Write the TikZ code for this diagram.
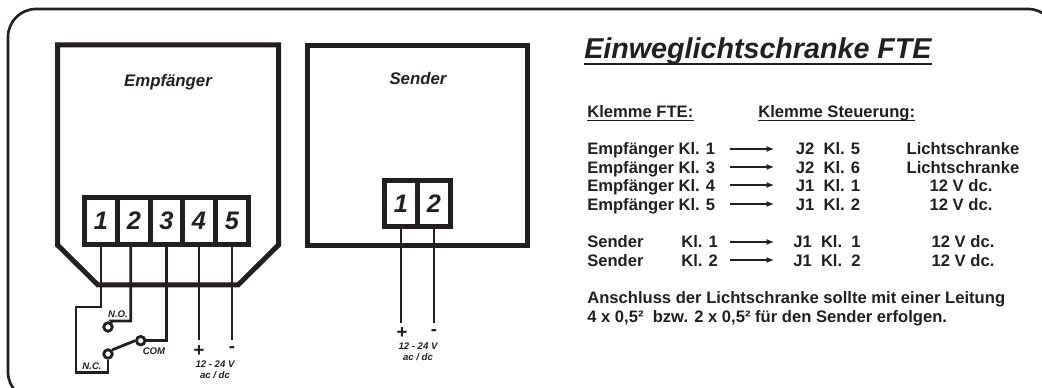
\documentclass[tikz,border=0pt]{standalone}
\usepackage{fontspec}
\setmainfont{Liberation Sans}
\definecolor{inkblack}{HTML}{231F20}
\tikzset{
  boxline/.style={draw=inkblack,line width=3.75pt,line join=miter},
  wire/.style={draw=inkblack,line width=2.1pt},
  thinwire/.style={draw=inkblack,line width=1.1pt},
  cell/.style={draw=inkblack,fill=white,line width=3.75pt,inner sep=0pt,minimum width=24.75pt,minimum height=35.2pt,font=\fontsize{19}{20}\selectfont\bfseries\itshape,text=inkblack},
  senderchip/.style={cell,minimum height=34.5pt},
  contact/.style={circle,draw=inkblack,fill=white,line width=2.1pt,inner sep=0pt,minimum size=6.4pt},
  boxlabel/.style={inner sep=0.75pt,text=inkblack,font=\fontsize{12.6}{14}\selectfont\bfseries\itshape},
  tinylabel/.style={inner sep=0pt,text=inkblack,align=center,font=\fontsize{7.2}{8.6}\selectfont\bfseries\itshape},
  polarity/.style={inner sep=0pt,text=inkblack,font=\fontsize{14}{14}\selectfont\bfseries},
  rowtext/.style={anchor=base west,inner sep=0pt,text=inkblack,font=\fontsize{12.45}{14}\selectfont\bfseries},
  rowcenter/.style={rowtext,anchor=base},
  rowarrow/.style={draw=inkblack,line width=0.95pt,-{Latex[length=5.5pt,width=4.5pt]}},
}
\usetikzlibrary{arrows.meta}
\begin{document}
\begin{tikzpicture}[x=0.75pt,y=0.75pt,yscale=-1,xscale=1]
\useasboundingbox (0,0) rectangle (1042,388);
\clip (0,0) rectangle (1042,388);
%Outer frame
\draw [draw=inkblack,line width=2pt,rounded corners=21pt] (8,9) rectangle (1056,400);
%Empfaenger housing
\draw [boxline] (98,285) -- (57.5,245) -- (57.5,45) -- (278.5,45) -- (278.5,245) -- (238,285) -- cycle;
%Sender housing
\draw [boxline] (307.5,45.5) rectangle (527.5,245.5);
% Text Node
\draw (168,82) node [boxlabel] (empflabel) {Empfänger};
% Text Node
\draw (418,79) node [boxlabel] (sendlabel) {Sender};
%Empfaenger terminals
\draw (101,221) node [cell] (e1) {1};
\draw (134,221) node [cell] (e2) {2};
\draw (166.5,221) node [cell] (e3) {3};
\draw (199,221) node [cell] (e4) {4};
\draw (232,221) node [cell] (e5) {5};
%Sender terminals
\draw (401,203.5) node [senderchip] (s1) {1};
\draw (434,203.5) node [senderchip] (s2) {2};
%Contacts
\draw (108,327) node [contact] (cno) {};
\draw (108,354) node [contact] (cnc) {};
\draw (140.7,340.7) node [contact] (ccom) {};
%Wire coordinates
\coordinate (kinka) at (101,307);
\coordinate (kinkb) at (76,307);
\coordinate (kinkc) at (76,372.7);
\coordinate (kinkd) at (108,372.7);
\coordinate (kinke) at (130.7,247);
\coordinate (kinkf) at (130.7,321);
\coordinate (kinkg) at (111,321);
\coordinate (kinkh) at (166.7,340.7);
\coordinate (kinki) at (166.7,247);
\coordinate (ende) at (199,340);
\coordinate (endf) at (232,340);
\coordinate (endg) at (401,323);
\coordinate (endh) at (434,323);
%Straight Lines
\draw [wire] (e1.south) -- (kinka) -- (kinkb) -- (kinkc) -- (kinkd) -- (cnc.south);
\draw [wire] (kinke) -- (kinkf) -- (kinkg) -- (cno.north east);
\draw [wire] (kinki) -- (kinkh) -- (ccom.east);
\draw [wire] (ccom.west) -- (cnc.north east);
\draw [wire] (e4.south) -- (ende);
\draw [wire] (e5.south) -- (endf);
\draw [wire] (s1.south) -- (endg);
\draw [wire] (s2.south) -- (endh);
% Text Node
\draw (118,314) node [tinylabel] (nolabel) {N.O.};
\draw (154,351) node [tinylabel] (comlabel) {COM};
\draw (92,366) node [tinylabel] (nclabel) {N.C.};
\draw (199,351) node [polarity] (plusa) {+};
\draw (232,350) node [polarity] (minusa) {-};
\draw (215,369.5) node [tinylabel] (supplya) {12 - 24 V\\ac / dc};
\draw (402,333) node [polarity] (plusb) {+};
\draw (434,333) node [polarity] (minusb) {-};
\draw (418,352) node [tinylabel] (supplyb) {12 - 24 V\\ac / dc};
% Title
\draw (584,59) node [rowtext,font=\fontsize{21.5}{26}\selectfont\bfseries\itshape] (title) {Einweglichtschranke FTE};
\draw [draw=inkblack,line width=1.9pt] ([yshift=3.8pt]title.base west) -- ([yshift=3.8pt]title.base east);
% Column heads
\draw (587,118) node [rowtext] (headfte) {Klemme FTE:};
\draw (758,118) node [rowtext] (headctl) {Klemme Steuerung:};
\draw [thinwire] ([yshift=2pt]headfte.base west) -- ([yshift=2pt]headfte.base east);
\draw [thinwire] ([yshift=2pt]headctl.base west) -- ([yshift=2pt]headctl.base east);
% Rows
\draw (587,155) node [rowtext] (rowa) {Empfänger Kl. 1};
\draw (587,174) node [rowtext] (rowb) {Empfänger Kl. 3};
\draw (587,192) node [rowtext] (rowc) {Empfänger Kl. 4};
\draw (587,211) node [rowtext] (rowd) {Empfänger Kl. 5};
\draw (587,248) node [rowtext] (rowe) {Sender};
\draw (681,248) node [rowtext] (rowekl) {Kl. 1};
\draw (587,267) node [rowtext] (rowf) {Sender};
\draw (681,267) node [rowtext] (rowfkl) {Kl. 2};
\draw (828,155) node [rowcenter] (ja) {J2\ \ Kl. 5};
\draw (828,174) node [rowcenter] (jb) {J2\ \ Kl. 6};
\draw (828,192) node [rowcenter] (jc) {J1\ \ Kl. 1};
\draw (828,211) node [rowcenter] (jd) {J1\ \ Kl. 2};
\draw (827,248) node [rowcenter] (je) {J1\ \ Kl.\ \ 1};
\draw (827,267) node [rowcenter] (jf) {J1\ \ Kl.\ \ 2};
\draw (963,155) node [rowcenter] (ua) {Lichtschranke};
\draw (963,174) node [rowcenter] (ub) {Lichtschranke};
\draw (961,192) node [rowcenter] (uc) {12 V dc.};
\draw (961,211) node [rowcenter] (ud) {12 V dc.};
\draw (963,248) node [rowcenter] (ue) {12 V dc.};
\draw (963,267) node [rowcenter] (uf) {12 V dc.};
% Arrows
\coordinate (arra) at (730,149);
\coordinate (arrb) at (730,167);
\coordinate (arrc) at (730,185);
\coordinate (arrd) at (730,204);
\coordinate (arre) at (730,242);
\coordinate (arrf) at (730,260);
\coordinate (arrA) at (774,149);
\coordinate (arrB) at (774,167);
\coordinate (arrC) at (774,185);
\coordinate (arrD) at (774,204);
\coordinate (arrE) at (774,242);
\coordinate (arrF) at (774,260);
\draw [rowarrow] (arra) -- (arrA);
\draw [rowarrow] (arrb) -- (arrB);
\draw [rowarrow] (arrc) -- (arrC);
\draw [rowarrow] (arrd) -- (arrD);
\draw [rowarrow] (arre) -- (arrE);
\draw [rowarrow] (arrf) -- (arrF);
% Note
\draw (587,304) node [rowtext] (notea) {Anschluss der Lichtschranke sollte mit einer Leitung};
\draw (587,322) node [rowtext] (noteb) {4 x 0,5²\ \ bzw. 2 x 0,5² für den Sender erfolgen.};
\end{tikzpicture}
\end{document}
